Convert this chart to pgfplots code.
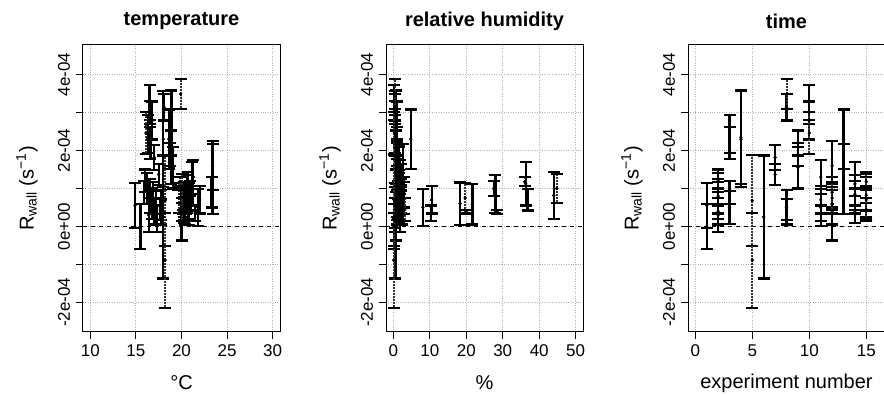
\documentclass[border=0pt]{standalone}
\usepackage{pgfplots}
\usepackage{pgfplotstable}
\pgfplotsset{compat=1.18}
\usepackage{fontspec}
\setmainfont{Liberation Sans}

\pgfplotstableread{
exp T rh y e
1 14.9 0.4 0.55 0.60
1 15.5 0.2 0.00 0.60
2 16.0 0.8 1.20 0.30
2 16.2 1.5 1.00 0.40
2 16.5 2.0 0.80 0.45
2 16.8 1.2 0.60 0.40
2 17.0 2.5 0.40 0.35
2 16.4 0.6 0.30 0.45
2 17.3 1.8 0.20 0.35
2 16.9 3.0 0.75 0.42
3 16.3 0.5 2.44 0.50
3 16.6 1.0 2.20 0.42
3 17.2 2.2 0.50 0.43
3 15.9 1.4 0.90 0.30
4 18.0 0.4 2.30 1.27
4 18.9 0.8 2.35 1.23
6 18.0 0.6 0.25 1.62
7 17.0 1.5 1.82 0.33
7 17.5 2.0 1.37 0.27
8 18.1 0.5 3.14 0.35
8 17.8 0.9 0.50 0.45
8 17.7 1.3 0.45 0.28
9 18.9 0.7 2.20 0.33
9 18.7 1.1 1.90 0.30
9 19.1 1.6 1.55 0.55
10 16.5 0.2 3.27 0.46
10 16.6 0.5 3.00 0.30
10 16.8 0.9 2.79 0.50
11 21.3 1.9 1.30 0.45
11 21.8 8.1 0.50 0.48
11 22.0 10.5 0.70 0.36
11 21.5 10.3 0.35 0.20
12 23.4 1.0 1.60 0.65
12 20.0 0.8 0.33 0.70
12 20.8 18.3 0.60 0.56
12 20.4 21.7 0.58 0.53
12 23.3 2.8 0.90 0.40
13 18.6 4.8 2.30 0.78
13 23.4 2.6 1.25 0.93
14 20.6 28.0 0.85 0.50
14 20.9 27.5 1.00 0.20
14 21.2 36.3 1.12 0.57
14 20.3 1.5 0.55 0.45
15 20.7 44.0 0.82 0.62
15 21.0 36.8 0.70 0.28
}\datasolid

\pgfplotstableread{
exp T rh y e
5 18.2 0.3 0.68 1.20
5 18.2 0.1 -0.89 1.25
8 19.9 0.4 3.49 0.40
10 16.1 0.3 2.46 0.55
12 19.7 19.7 0.75 0.40
12 20.2 20.0 0.38 0.05
14 20.5 28.5 0.38 0.06
15 19.8 36.0 1.18 0.12
15 20.1 44.8 1.00 0.38
15 19.6 2.0 1.00 0.05
15 20.3 1.0 0.20 0.04
15 20.0 3.1 0.45 0.30
}\datadotted

\pgfplotsset{
  rpanel/.style={
    scale only axis, width=197pt, height=287pt, anchor=south west,
    /pgf/number format/assume math mode=true,
    ymin=-2.78, ymax=4.78,
    ytick={-2,-1,0,1,2,3,4},
    yticklabels={-2e-04,,0e+00,,2e-04,,4e-04},
    xtick pos=bottom, ytick pos=left,
    grid=major, grid style={dotted, black!30, line width=0.9pt},
    tick align=outside, major tick length=7pt,
    tick style={black, line width=1pt},
    axis line style={line width=1pt},
    tick label style={font=\fontsize{17}{20}\selectfont},
    yticklabel style={rotate=90, anchor=south},
    xticklabel shift=2.5pt, yticklabel shift=2.5pt,
    every axis title/.style={at={(axis description cs:0.5,1)}, anchor=center, yshift=24pt, font=\bfseries\fontsize{20}{24}\selectfont},
    every axis x label/.style={at={(axis description cs:0.5,0)}, anchor=center, yshift=-51pt, font=\fontsize{20}{24}\selectfont},
    every axis y label/.style={at={([xshift=-56pt]axis description cs:0,0.5)}, rotate=90, anchor=center, font=\fontsize{20}{24}\selectfont},
    ylabel={R\textsubscript{wall} (s\textsuperscript{−1})},
  },
  solidbars/.style={only marks, mark=*, mark size=1.5pt, black,
    error bars/.cd, y dir=both, y explicit,
    error bar style={line width=2.2pt, black},
    error mark options={rotate=90, mark size=6pt, line width=2.2pt, black}},
  dotbars/.style={only marks, mark=*, mark size=1.5pt, black,
    error bars/.cd, y dir=both, y explicit,
    error bar style={line width=2pt, black!80, densely dotted},
    error mark options={solid, rotate=90, mark size=6pt, line width=2.2pt, black}},
}

\begin{document}
\begin{tikzpicture}
\useasboundingbox (0,0) rectangle (884pt,395pt);
\clip (0,0) rectangle (884pt,395pt);

\begin{axis}[rpanel, at={(83pt,63pt)}, title={temperature}, xlabel={°C},
  xmin=9.2, xmax=30.8, xtick={10,15,20,25,30}]
\addplot[black, line width=1pt, dash pattern=on 4pt off 4pt] coordinates {(9.2,0) (30.8,0)};
\addplot[solidbars] table[x=T, y=y, y error=e] {\datasolid};
\addplot[dotbars] table[x=T, y=y, y error=e] {\datadotted};
\end{axis}

\begin{axis}[rpanel, at={(386pt,63pt)}, title={relative humidity}, xlabel={\%},
  xmin=-2, xmax=52, xtick={0,10,20,30,40,50}]
\addplot[black, line width=1pt, dash pattern=on 4pt off 4pt] coordinates {(-2,0) (52,0)};
\addplot[solidbars] table[x=rh, y=y, y error=e] {\datasolid};
\addplot[dotbars] table[x=rh, y=y, y error=e] {\datadotted};
\end{axis}

\begin{axis}[rpanel, at={(688pt,63pt)}, title={time}, xlabel={experiment number},
  xmin=-0.64, xmax=16.64, xtick={0,5,10,15}]
\addplot[black, line width=1pt, dash pattern=on 4pt off 4pt] coordinates {(-0.64,0) (16.64,0)};
\addplot[solidbars] table[x=exp, y=y, y error=e] {\datasolid};
\addplot[dotbars] table[x=exp, y=y, y error=e] {\datadotted};
\end{axis}
\end{tikzpicture}
\end{document}
